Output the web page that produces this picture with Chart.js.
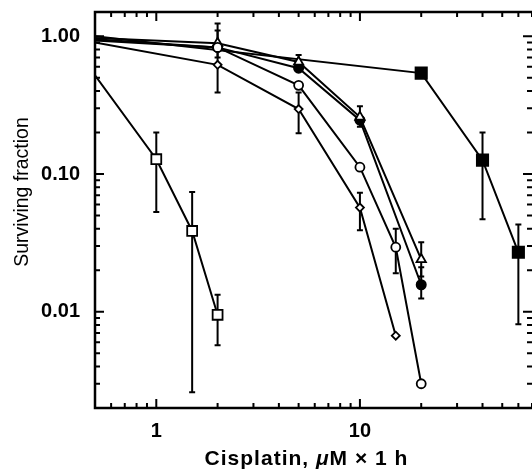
<!DOCTYPE html>
<html><head><meta charset="utf-8">
<script src="https://cdn.jsdelivr.net/npm/chart.js@4.4.1/dist/chart.umd.min.js"></script>
<style>html,body{margin:0;padding:0;background:#fff;overflow:hidden}#wrap{width:532px;height:472px}</style>
</head><body><div id="wrap"><canvas id="c" width="532" height="472"></canvas></div>
<script>
// ---- data ----
const xTickLabels = [1, 10];
const yTickLabels = [1, 0.1, 0.01];
const xTitleText = ['Cisplatin, ', 'μ', 'M × 1 h'];
const yTitleText = 'Surviving fraction';

const doses_openSquare = [0.5, 1, 1.5, 2];
const surv_openSquare = [0.52, 0.128, 0.0386, 0.0095];
const err_openSquare = [null, [0.053, 0.20], [0.0026, 0.074], [0.0057, 0.0133]];

const doses_openCircle = [0.5, 2, 5, 10, 15, 20];
const surv_openCircle = [0.93, 0.83, 0.44, 0.112, 0.0294, 0.0030];
const err_openCircle = [null, [0.39, 1.24], null, null, [0.019, 0.04], null];

const doses_diamond = [0.5, 2, 5, 10, 15];
const surv_diamond = [0.9, 0.62, 0.296, 0.057, 0.0067];
const err_diamond = [null, null, [0.198, 0.39], [0.039, 0.073], null];

const doses_triangle = [0.5, 2, 5, 10, 20];
const surv_triangle = [0.97, 0.89, 0.65, 0.259, 0.024];
const err_triangle = [null, [0.7, 1.1], [0.6, 0.73], [0.22, 0.31], [0.018, 0.032]];

const doses_filledCircle = [0.5, 2, 5, 10, 20];
const surv_filledCircle = [0.95, 0.83, 0.586, 0.246, 0.0157];
const err_filledCircle = [null, null, null, null, [0.0125, 0.021]];

const doses_filledSquare = [0.5, 20, 40, 60];
const surv_filledSquare = [1.0, 0.54, 0.126, 0.027];
const err_filledSquare = [null, null, [0.047, 0.20], [0.0081, 0.043]];

// ---- build ----
function pts(xs, ys){ return xs.map((x,i)=>({x:x, y:ys[i]})); }
function radii(n, r){ return Array.from({length:n},(_,i)=> i===0 ? 0 : r); }

function ds(xs, ys, errs, style, r, fill){
  return {
    data: pts(xs, ys), errors: errs,
    showLine: true, borderColor:'#000', borderWidth:2, tension:0,
    pointStyle: style, pointRadius: radii(xs.length, r),
    pointBackgroundColor: fill, pointBorderColor:'#000', pointBorderWidth:1.8,
    pointHoverRadius: radii(xs.length, r)
  };
}

const datasets = [
  ds(doses_openSquare, surv_openSquare, err_openSquare, 'rect', 7, '#fff'),
  ds(doses_openCircle, surv_openCircle, err_openCircle, 'circle', 4.5, '#fff'),
  ds(doses_diamond, surv_diamond, err_diamond, 'rectRot', 4, '#fff'),
  ds(doses_triangle, surv_triangle, err_triangle, 'triangle', 5.4, '#fff'),
  ds(doses_filledCircle, surv_filledCircle, err_filledCircle, 'circle', 4.6, '#000'),
  ds(doses_filledSquare, surv_filledSquare, err_filledSquare, 'rect', 8, '#000')
];

function isPow10(v, list){ return list.some(t => Math.abs(Math.log10(v / t)) < 1e-6); }

const errorBarPlugin = {
  id: 'errorBars',
  beforeDatasetsDraw(chart){
    const {ctx, scales:{x, y}} = chart;
    ctx.save();
    ctx.strokeStyle = '#000'; ctx.lineWidth = 2;
    chart.data.datasets.forEach(d => {
      d.errors.forEach((e, i) => {
        if (!e) return;
        const px = x.getPixelForValue(d.data[i].x);
        const p1 = y.getPixelForValue(e[0]);
        const p2 = y.getPixelForValue(e[1]);
        ctx.beginPath();
        ctx.moveTo(px, p1); ctx.lineTo(px, p2);
        ctx.moveTo(px - 3, p1); ctx.lineTo(px + 3, p1);
        ctx.moveTo(px - 3, p2); ctx.lineTo(px + 3, p2);
        ctx.stroke();
      });
    });
    ctx.restore();
  }
};

function logTickValues(min, max){
  const out = [];
  for (let e = Math.floor(Math.log10(min)); e <= Math.ceil(Math.log10(max)); e++){
    for (let m = 1; m <= 9; m++){
      const v = m * Math.pow(10, e);
      if (v >= min * 0.9999 && v <= max * 1.0001) out.push({v: v, major: m === 1});
    }
  }
  return out;
}

const framePlugin = {
  id: 'frame',
  afterDatasetsDraw(chart){
    const {ctx, chartArea:a, scales:{x, y}} = chart;
    ctx.save();
    ctx.strokeStyle = '#000';
    ctx.lineWidth = 2.5;
    ctx.beginPath();
    ctx.moveTo(a.right + 2, a.top); ctx.lineTo(a.left, a.top);
    ctx.lineTo(a.left, a.bottom); ctx.lineTo(a.right + 2, a.bottom);
    ctx.stroke();
    ctx.lineWidth = 2;
    ctx.beginPath();
    logTickValues(x.min, x.max).forEach(t => {
      const px = x.getPixelForValue(t.v);
      const L = t.major ? 9 : 5;
      ctx.moveTo(px, a.bottom); ctx.lineTo(px, a.bottom - L);
      ctx.moveTo(px, a.top); ctx.lineTo(px, a.top + L);
    });
    logTickValues(y.min, y.max).forEach(t => {
      const py = y.getPixelForValue(t.v);
      const L = t.major ? 9 : 5;
      ctx.moveTo(a.left, py); ctx.lineTo(a.left + L, py);
      ctx.moveTo(a.right, py); ctx.lineTo(a.right - L, py);
    });
    ctx.stroke();
    ctx.restore();
  },
  afterDraw(chart){
    const {ctx} = chart;
    ctx.save();
    ctx.fillStyle = '#000';
    // x title with italic mu
    const fN = 'bold 21px "Liberation Sans", Arial, sans-serif';
    const fI = 'italic bold 21px "Liberation Sans", Arial, sans-serif';
    try { ctx.letterSpacing = '1px'; } catch(e) {}
    const fonts = [fN, fI, fN];
    let widths = xTitleText.map((s, i) => { ctx.font = fonts[i]; return ctx.measureText(s).width; });
    const total = widths.reduce((p, c) => p + c, 0);
    let cx = 306.5 - total / 2;
    ctx.textBaseline = 'alphabetic'; ctx.textAlign = 'left';
    xTitleText.forEach((s, i) => { ctx.font = fonts[i]; ctx.fillText(s, cx, 465); cx += widths[i]; });
    // y title
    try { ctx.letterSpacing = '0px'; } catch(e) {}
    ctx.translate(28, 192);
    ctx.rotate(-Math.PI / 2);
    ctx.font = '19.5px "Liberation Sans", Arial, sans-serif';
    ctx.textAlign = 'center';
    ctx.fillText(yTitleText, 0, 0);
    ctx.restore();
  }
};

const tickFont = {family: '"Liberation Sans", Arial, sans-serif', weight: 'bold', size: 20};

new Chart(document.getElementById('c'), {
  type: 'scatter',
  data: { datasets: datasets },
  options: {
    responsive: false, animation: false, devicePixelRatio: 1,
    layout: { autoPadding: false, padding: {top: 12, right: 0, left: 0, bottom: 0} },
    plugins: { legend: {display: false}, tooltip: {enabled: false} },
    scales: {
      x: {
        type: 'logarithmic', min: 0.5, max: 70, position: 'bottom',
        grid: {display: false, drawTicks: false}, border: {display: false},
        afterBuildTicks: s => { s.ticks = xTickLabels.map(v => ({value: v})); },
        ticks: { font: tickFont, color: '#000', padding: 11, autoSkip: false, maxRotation: 0,
          callback: v => isPow10(v, xTickLabels) ? String(v) : null },
        afterFit: s => { s.height = 64; s.paddingLeft = s.paddingRight = s.paddingTop = s.paddingBottom = 0; }
      },
      y: {
        type: 'logarithmic', min: 0.002, max: 1.5, position: 'left',
        grid: {display: false, drawTicks: false}, border: {display: false},
        afterBuildTicks: s => { s.ticks = yTickLabels.map(v => ({value: v})); },
        ticks: { font: tickFont, color: '#000', padding: 15, autoSkip: false,
          callback: v => isPow10(v, yTickLabels) ? Number(v).toFixed(2) : null },
        afterFit: s => { s.width = 95; s.paddingLeft = s.paddingRight = s.paddingTop = s.paddingBottom = 0; }
      }
    }
  },
  plugins: [errorBarPlugin, framePlugin]
});
</script>
</body></html>
